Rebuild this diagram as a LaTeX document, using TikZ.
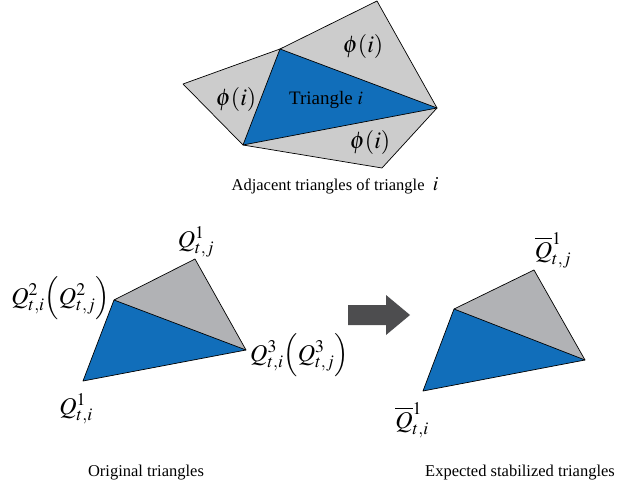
\documentclass[tikz,border=0pt]{standalone}
\usepackage{mathptmx}
\usepackage{fontspec}
\setmainfont{Liberation Serif}
\usetikzlibrary{calc}
\definecolor{triblue}{RGB}{17,110,186}
\definecolor{adjgray}{RGB}{204,204,204}
\definecolor{nbgray}{RGB}{177,178,181}
\definecolor{arrowgray}{RGB}{77,77,79}

\begin{document}
\begin{tikzpicture}[x=1pt, y=-1pt,
    tri/.style={draw=black, line width=0.7pt, line join=round},
    lab/.style={inner sep=0pt, font=\fontsize{24}{28}\selectfont},
    captext/.style={inner sep=0pt, font=\fontsize{16.5}{20}\selectfont}
]
\useasboundingbox (0,0) rectangle (636,489);

% adjacent triangles (top)
\coordinate (a1) at (183,84);
\coordinate (a2) at (280,49);
\coordinate (a3) at (377,1);
\coordinate (a4) at (437,108);
\coordinate (a5) at (243,145);
\coordinate (a6) at (382,168);
\fill[adjgray] (a1) -- (a2) -- (a5) -- cycle;
\fill[adjgray] (a2) -- (a3) -- (a4) -- cycle;
\fill[adjgray] (a5) -- (a4) -- (a6) -- cycle;
\fill[triblue] (a2) -- (a4) -- (a5) -- cycle;
\draw[tri] (a1) -- (a2) -- (a3) -- (a4) -- (a6) -- (a5) -- cycle;
\draw[tri] (a2) -- (a4) -- (a5) -- cycle;
\node[lab] (phil) at (236,100) {$\phi(i)$};
\node[lab] (phit) at (363,47) {$\phi(i)$};
\node[lab] (phib) at (370,143) {$\phi(i)$};
\node[lab, font=\fontsize{19}{23}\selectfont] (tri) at (326,100) {Triangle $i$};
\node[captext] (adjcap) at (335,186) {Adjacent triangles of triangle~~{\fontsize{20}{24}\selectfont$i$}};

% original triangles
\coordinate (q2) at (114,300);
\coordinate (qj) at (195,259);
\coordinate (q3) at (246,350);
\coordinate (q1) at (83,381);
\fill[nbgray] (q2) -- (qj) -- (q3) -- cycle;
\fill[triblue] (q2) -- (q3) -- (q1) -- cycle;
\draw[tri] (q2) -- (qj) -- (q3) -- (q1) -- cycle;
\draw[tri] (q2) -- (q3);
\node[lab] (lqj) at (196,242) {$Q^{1}_{t,j}$};
\node[lab, anchor=east] (lq2) at (110,298) {$Q^{2}_{t,i}{\left(Q^{2}_{t,j}\right)}$};
\node[lab, anchor=west] (lq3) at (250,355) {$Q^{3}_{t,i}{\left(Q^{3}_{t,j}\right)}$};
\node[lab] (lq1) at (76,409) {$Q^{1}_{t,i}$};
\node[captext] (origcap) at (146,473) {Original triangles};

% arrow
\fill[arrowgray] (348,305) -- (386,305) -- (386,295) -- (410,315)
    -- (386,335) -- (386,325) -- (348,325) -- cycle;

% stabilized triangles
\coordinate (s2) at (454,309);
\coordinate (sj) at (534,270);
\coordinate (s3) at (585,360);
\coordinate (s1) at (423,391);
\fill[nbgray] (s2) -- (sj) -- (s3) -- cycle;
\fill[triblue] (s2) -- (s3) -- (s1) -- cycle;
\draw[tri] (s2) -- (sj) -- (s3) -- (s1) -- cycle;
\draw[tri] (s2) -- (s3);
\node[lab] (lsj) at (553,250) {$\overline{Q}^{1}_{t,j}$};
\node[lab] (ls1) at (412,420) {$\overline{Q}^{1}_{t,i}$};
\node[captext] (stabcap) at (520,473) {Expected stabilized triangles};
\end{tikzpicture}
\end{document}
